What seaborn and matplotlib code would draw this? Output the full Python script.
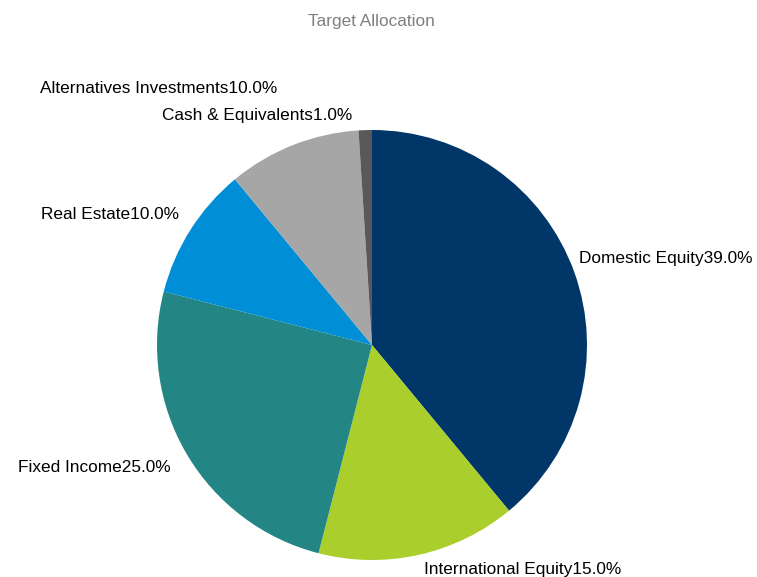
import matplotlib
matplotlib.use("Agg")
import matplotlib.pyplot as plt
import seaborn as sns

# data
categories = ["Domestic Equity", "International Equity", "Fixed Income",
              "Real Estate", "Alternatives Investments", "Cash & Equivalents"]
shares = [39.0, 15.0, 25.0, 10.0, 10.0, 1.0]
colors = ["#003768", "#AACF2C", "#238685", "#008FD6", "#A6A6A6", "#595959"]

sns.set_theme(style="white")
plt.rcParams["font.family"] = ["Liberation Sans", "DejaVu Sans"]

fig = plt.figure(figsize=(7.57, 5.77), dpi=100)
ax = fig.add_axes([157 / 757, 17 / 577, 430 / 757, 430 / 577])

labels = [f"{c}{v:.1f}%" for c, v in zip(categories, shares)]
wedges, texts = ax.pie(shares, labels=labels, colors=colors, startangle=90,
                       counterclock=False, labeldistance=1.1,
                       wedgeprops=dict(linewidth=0),
                       textprops=dict(fontsize=12.4, color="black"))
ax.set_xlim(-1, 1)
ax.set_ylim(-1, 1)

# small label nudges to mimic Excel's placement (in radius units)
nudges = [(-0.07, 0.028), (0.0, 0.03), (0.01, -0.01),
          (0.03, 0.017), (-0.035, 0.172), (-0.055, -0.03)]
for t, (dx, dy) in zip(texts, nudges):
    x, y = t.get_position()
    t.set_position((x + dx, y + dy))

fig.text(0.491, 0.963, "Target Allocation", ha="center", va="center",
         fontsize=12.4, color="#7F7F7F")

fig.savefig("out.png", dpi=100)
